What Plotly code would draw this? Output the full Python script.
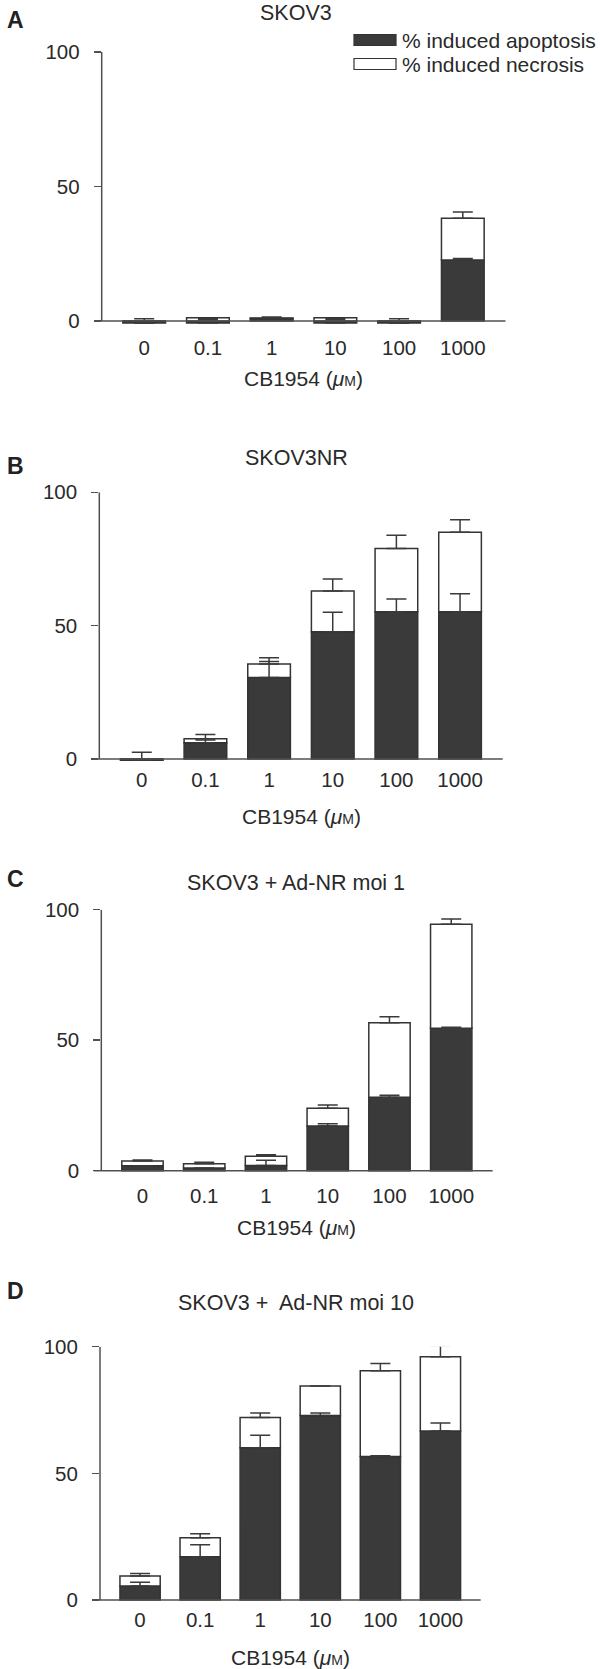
import plotly.graph_objects as go

# ---------------- data ----------------
concentrations = ["0", "0.1", "1", "10", "100", "1000"]
panel_letters = ["A", "B", "C", "D"]
panel_titles = ["SKOV3", "SKOV3NR", "SKOV3 + Ad-NR moi 1", "SKOV3 +  Ad-NR moi 10"]
series_names = ["% induced apoptosis", "% induced necrosis"]
x_title = "CB1954 (<i>μ</i><span style='font-size:14px'>M</span>)"
y_ticks = [0, 50, 100]

# mean % induced apoptosis per concentration
apop_A = [-0.7, -0.7, 0.9, -0.7, -0.7, 22.7]
apop_B = [-0.5, 6.1, 30.6, 47.7, 55.2, 55.2]
apop_C = [1.9, 1.0, 2.0, 17.1, 28.1, 54.6]
apop_D = [5.5, 17.1, 60.1, 72.8, 56.7, 66.7]

# mean % induced necrosis (stacked above apoptosis)
necr_A = [0.0, 1.2, 0.2, 1.2, 0.0, 15.5]
necr_B = [0.0, 1.5, 5.0, 15.3, 23.7, 29.8]
necr_C = [1.8, 1.7, 3.5, 6.8, 28.6, 39.8]
necr_D = [4.0, 7.5, 11.9, 11.7, 33.8, 29.3]

# upper error (s.d.) of apoptosis
apop_err_A = [0.0, 0.0, 0.0, 0.0, 0.0, 0.5]
apop_err_B = [0.0, 1.0, 6.0, 7.3, 4.8, 6.8]
apop_err_C = [0.0, 0.0, 2.0, 0.9, 0.8, 0.4]
apop_err_D = [1.5, 4.7, 4.9, 1.0, 0.2, 3.2]

# upper error (s.d.) of total (apoptosis + necrosis)
tot_err_A = [1.5, 0.3, 0.4, 0.3, 1.5, 2.3]
tot_err_B = [3.0, 1.6, 2.4, 4.5, 5.0, 4.7]
tot_err_C = [0.4, 0.5, 0.6, 1.3, 2.3, 2.0]
tot_err_D = [1.0, 1.6, 1.8, 0.0, 2.9, 4.5]

apop_all = [apop_A, apop_B, apop_C, apop_D]
necr_all = [necr_A, necr_B, necr_C, necr_D]
apop_err_all = [apop_err_A, apop_err_B, apop_err_C, apop_err_D]
tot_err_all = [tot_err_A, tot_err_B, tot_err_C, tot_err_D]

# ---------------- layout geometry (pixels) ----------------
W, H = 600, 1669
FONT = "Liberation Sans, Arial, Helvetica, sans-serif"
TXT = "#2a2a2a"
AX = "#505050"
DARK = "#3a3a3a"
y_range = [-2, 100]
# (x_left, x_right, y_zero_px, y_hundred_px)
geom = [
    (101.7, 505.5, 321.0, 52.0),
    (99.3, 502.7, 759.0, 492.3),
    (101.3, 492.6, 1170.7, 909.7),
    (100.0, 480.7, 1600.0, 1346.7),
]
title_y = [13, 458, 883, 1303]
letter_y = [20, 466, 879, 1291]
tick_standoff = [7, 1, 6, 0]

fig = go.Figure()
shapes = []
annotations = []

for i in range(4):
    xl, xr, y0p, y100p = geom[i]
    scale = (y0p - y100p) / 100.0
    ybot = y0p - y_range[0] * scale
    xa = "x" if i == 0 else f"x{i+1}"
    ya = "y" if i == 0 else f"y{i+1}"
    xkey = "xaxis" if i == 0 else f"xaxis{i+1}"
    ykey = "yaxis" if i == 0 else f"yaxis{i+1}"

    apop = apop_all[i]
    necr = necr_all[i]
    total = [a + n for a, n in zip(apop, necr)]

    fig.add_trace(go.Bar(
        x=concentrations, y=apop, name=series_names[0], xaxis=xa, yaxis=ya,
        marker=dict(color=DARK, line=dict(color="#333333", width=1.5)),
        width=0.67, showlegend=False))
    fig.add_trace(go.Bar(
        x=concentrations, y=necr, name=series_names[1], xaxis=xa, yaxis=ya,
        marker=dict(color="white", line=dict(color="#333333", width=1.5)),
        width=0.67, showlegend=False))
    # error bars drawn on top of the stacks
    fig.add_trace(go.Scatter(
        x=concentrations, y=apop, xaxis=xa, yaxis=ya, mode="markers",
        marker=dict(size=1, opacity=0), showlegend=False, hoverinfo="skip",
        error_y=dict(type="data", array=apop_err_all[i], arrayminus=[0] * 6,
                     symmetric=False, color="#3a3a3a", thickness=1.5, width=10)))
    fig.add_trace(go.Scatter(
        x=concentrations, y=total, xaxis=xa, yaxis=ya, mode="markers",
        marker=dict(size=1, opacity=0), showlegend=False, hoverinfo="skip",
        error_y=dict(type="data", array=tot_err_all[i], arrayminus=[0] * 6,
                     symmetric=False, color="#3a3a3a", thickness=1.5, width=10)))

    fig.layout[xkey] = dict(
        domain=[xl / W, xr / W], anchor=ya, type="category", automargin=False,
        range=[-0.667, 5.67], showline=False, showgrid=False, zeroline=False,
        ticks="", ticklabelstandoff=tick_standoff[i],
        tickfont=dict(family=FONT, size=20.5, color=TXT), fixedrange=True)
    fig.layout[ykey] = dict(
        domain=[1 - ybot / H, 1 - y100p / H], anchor=xa, range=y_range,
        automargin=False,
        tickvals=y_ticks, showline=False, showgrid=False, zeroline=False,
        ticks="outside", ticklen=7, tickwidth=1.5, tickcolor=AX,
        ticklabelstandoff=10,
        tickfont=dict(family=FONT, size=20.5, color=TXT), fixedrange=True)

    # axis lines
    shapes.append(dict(type="line", xref=f"{xa} domain", yref=ya,
                       x0=0, x1=0, y0=0, y1=100,
                       line=dict(color=AX, width=1.5)))
    shapes.append(dict(type="line", xref=f"{xa} domain", yref=ya,
                       x0=-7.5 / (xr - xl), x1=1, y0=0, y1=0,
                       line=dict(color=AX, width=1.5)))

    # axis title
    annotations.append(dict(text=x_title, xref="paper", yref="paper",
                            x=((xl + xr) / 2) / W, y=1 - (y0p + 57) / H,
                            xanchor="center", yanchor="middle", showarrow=False,
                            font=dict(family=FONT, size=21, color=TXT)))
    # panel title
    annotations.append(dict(text=panel_titles[i], xref="paper", yref="paper",
                            x=296 / W, y=1 - title_y[i] / H,
                            xanchor="center", yanchor="middle", showarrow=False,
                            font=dict(family=FONT, size=21.5, color=TXT)))
    # panel letter
    annotations.append(dict(text=f"<b>{panel_letters[i]}</b>", xref="paper", yref="paper",
                            x=5 / W, y=1 - letter_y[i] / H,
                            xanchor="left", yanchor="middle", showarrow=False,
                            font=dict(family=FONT, size=23, color="#222222")))

# legend (drawn manually)
leg_rows = [(40, DARK), (64, "white")]
for (yc, col), name in zip(leg_rows, series_names):
    shapes.append(dict(type="rect", xref="paper", yref="paper",
                       x0=354 / W, x1=396 / W, y0=1 - (yc + 5.5) / H, y1=1 - (yc - 5.5) / H,
                       fillcolor=col, line=dict(color="#333333", width=1.2)))
    annotations.append(dict(text=name, xref="paper", yref="paper",
                            x=400 / W, y=1 - yc / H, xanchor="left", yanchor="middle",
                            showarrow=False,
                            font=dict(family=FONT, size=21, color=TXT)))

fig.update_layout(
    template="none",
    width=W, height=H, margin=dict(l=0, r=0, t=0, b=0, autoexpand=False),
    paper_bgcolor="white", plot_bgcolor="white",
    barmode="relative", bargap=0.33, showlegend=False,
    shapes=shapes, annotations=annotations,
    font=dict(family=FONT, size=20, color=TXT),
)

fig.write_html("out.html",
               config={"displayModeBar": False, "staticPlot": True},
               post_script="document.body.style.margin='0';document.body.style.overflow='hidden';")
